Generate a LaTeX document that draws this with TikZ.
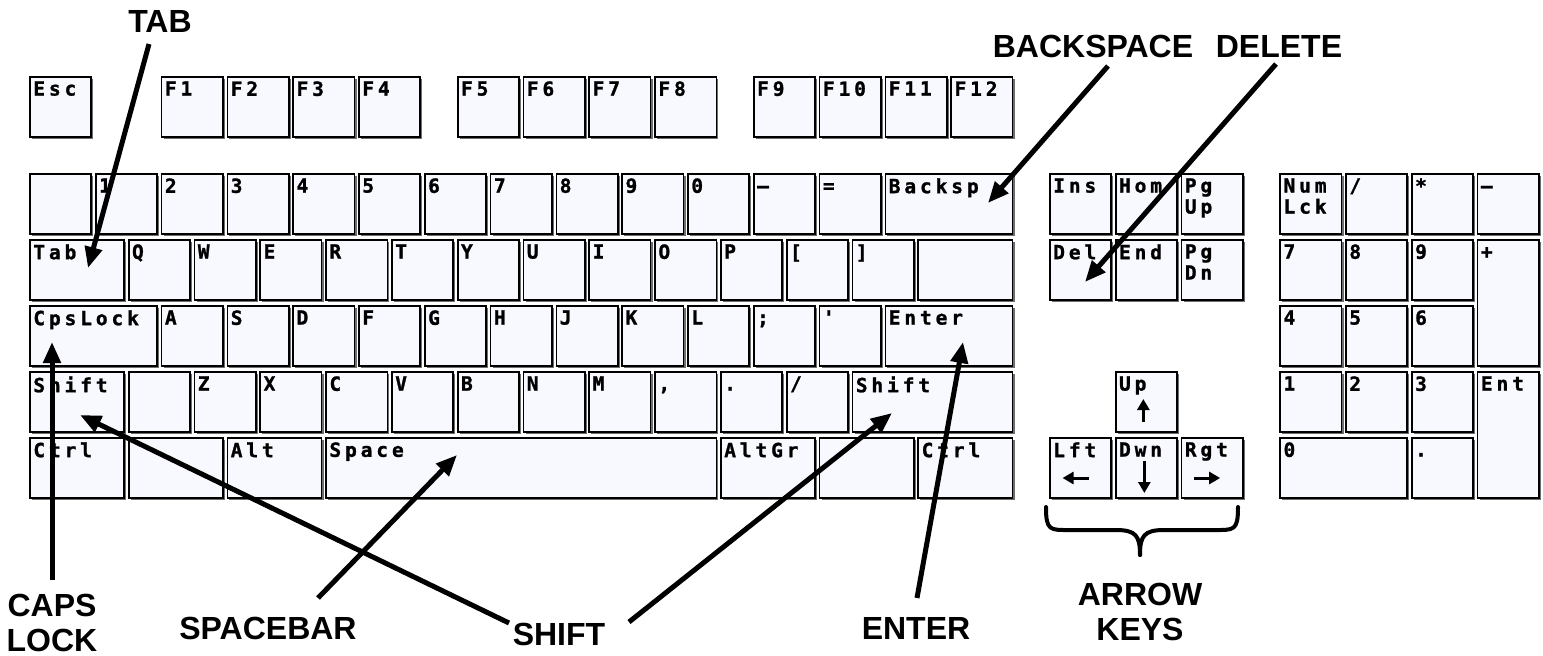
\documentclass[tikz,border=0pt]{standalone}
\usepackage{fontspec}
\setmainfont{Liberation Sans}
\newfontfamily\keyfont[LetterSpace=20, FakeBold=1.2]{DejaVu Sans Mono Bold}
\usetikzlibrary{arrows.meta,shadows,calc}
\definecolor{keyfill}{HTML}{F8F8FF}
\definecolor{keyshade}{HTML}{6E6E6E}
\tikzset{
  keybox/.style={draw=black, line width=1.7pt, fill=keyfill, rectangle, inner sep=0pt,
    drop shadow={shadow xshift=2pt, shadow yshift=-2pt, fill=keyshade, opacity=1}},
  keylbl/.style={anchor=north west, inner sep=0pt, align=left,
    font=\keyfont\fontsize{19.5}{21}\selectfont},
  callout/.style={line width=5pt, -{Triangle[length=21pt,width=17pt]}},
  calllbl/.style={font=\bfseries\fontsize{32}{35}\selectfont, align=center, inner sep=0pt},
  miniarrow/.style={line width=3pt, -{Triangle[length=11pt,width=12pt]}},
  bracepath/.style={line width=4pt, line cap=round},
}
% name, column, top (px), width units, height units, label
\newcommand\kk[6]{%
  \node[keybox, minimum width={#4*65.8-4.5}, minimum height={#5*66-6}] (#1)
    at ({30+#2*65.8+(#4*65.8-4.5)/2},{#3+(#5*66-6)/2}) {};
  \node[keylbl] (#1-t) at ([xshift=4pt,yshift=-5pt]#1.north west) {\vphantom{E}#6};
}
\begin{document}
\begin{tikzpicture}[x=1pt,y=-1pt]
\useasboundingbox (0,0) rectangle (1543,656);
\fill[white] (0,0) rectangle (1543,656);
% function row
\kk{esc}{0}{77}{1}{1}{Esc}
\kk{f1}{2}{77}{1}{1}{F1}
\kk{f2}{3}{77}{1}{1}{F2}
\kk{f3}{4}{77}{1}{1}{F3}
\kk{f4}{5}{77}{1}{1}{F4}
\kk{f5}{6.5}{77}{1}{1}{F5}
\kk{f6}{7.5}{77}{1}{1}{F6}
\kk{f7}{8.5}{77}{1}{1}{F7}
\kk{f8}{9.5}{77}{1}{1}{F8}
\kk{f9}{11}{77}{1}{1}{F9}
\kk{f10}{12}{77}{1}{1}{F10}
\kk{f11}{13}{77}{1}{1}{F11}
\kk{f12}{14}{77}{1}{1}{F12}
% number row
\kk{grave}{0}{174}{1}{1}{}
\kk{k1}{1}{174}{1}{1}{1}
\kk{k2}{2}{174}{1}{1}{2}
\kk{k3}{3}{174}{1}{1}{3}
\kk{k4}{4}{174}{1}{1}{4}
\kk{k5}{5}{174}{1}{1}{5}
\kk{k6}{6}{174}{1}{1}{6}
\kk{k7}{7}{174}{1}{1}{7}
\kk{k8}{8}{174}{1}{1}{8}
\kk{k9}{9}{174}{1}{1}{9}
\kk{k0}{10}{174}{1}{1}{0}
\kk{minus}{11}{174}{1}{1}{–}
\kk{equal}{12}{174}{1}{1}{=}
\kk{bksp}{13}{174}{2}{1}{Backsp}
% tab row
\kk{tab}{0}{240}{1.5}{1}{Tab}
\kk{q}{1.5}{240}{1}{1}{Q}
\kk{w}{2.5}{240}{1}{1}{W}
\kk{e}{3.5}{240}{1}{1}{E}
\kk{r}{4.5}{240}{1}{1}{R}
\kk{t}{5.5}{240}{1}{1}{T}
\kk{y}{6.5}{240}{1}{1}{Y}
\kk{u}{7.5}{240}{1}{1}{U}
\kk{i}{8.5}{240}{1}{1}{I}
\kk{o}{9.5}{240}{1}{1}{O}
\kk{p}{10.5}{240}{1}{1}{P}
\kk{lbr}{11.5}{240}{1}{1}{[}
\kk{rbr}{12.5}{240}{1}{1}{]}
\kk{bsl}{13.5}{240}{1.5}{1}{}
% caps row
\kk{caps}{0}{306}{2}{1}{CpsLock}
\kk{a}{2}{306}{1}{1}{A}
\kk{s}{3}{306}{1}{1}{S}
\kk{d}{4}{306}{1}{1}{D}
\kk{f}{5}{306}{1}{1}{F}
\kk{g}{6}{306}{1}{1}{G}
\kk{h}{7}{306}{1}{1}{H}
\kk{j}{8}{306}{1}{1}{J}
\kk{k}{9}{306}{1}{1}{K}
\kk{l}{10}{306}{1}{1}{L}
\kk{semi}{11}{306}{1}{1}{;}
\kk{quote}{12}{306}{1}{1}{'}
\kk{enter}{13}{306}{2}{1}{Enter}
% shift row
\kk{lshift}{0}{372}{1.5}{1}{Shift}
\kk{iso}{1.5}{372}{1}{1}{}
\kk{z}{2.5}{372}{1}{1}{Z}
\kk{x}{3.5}{372}{1}{1}{X}
\kk{c}{4.5}{372}{1}{1}{C}
\kk{v}{5.5}{372}{1}{1}{V}
\kk{b}{6.5}{372}{1}{1}{B}
\kk{n}{7.5}{372}{1}{1}{N}
\kk{m}{8.5}{372}{1}{1}{M}
\kk{comma}{9.5}{372}{1}{1}{,}
\kk{period}{10.5}{372}{1}{1}{.}
\kk{slash}{11.5}{372}{1}{1}{/}
\kk{rshift}{12.5}{372}{2.5}{1}{Shift}
% ctrl row
\kk{lctrl}{0}{438}{1.5}{1}{Ctrl}
\kk{lwin}{1.5}{438}{1.5}{1}{}
\kk{alt}{3}{438}{1.5}{1}{Alt}
\kk{space}{4.5}{438}{6}{1}{Space}
\kk{altgr}{10.5}{438}{1.5}{1}{AltGr}
\kk{rwin}{12}{438}{1.5}{1}{}
\kk{rctrl}{13.5}{438}{1.5}{1}{Ctrl}
% navigation
\kk{ins}{15.5}{174}{1}{1}{Ins}
\kk{hom}{16.5}{174}{1}{1}{Hom}
\kk{pgup}{17.5}{174}{1}{1}{Pg\\Up}
\kk{del}{15.5}{240}{1}{1}{Del}
\kk{end}{16.5}{240}{1}{1}{End}
\kk{pgdn}{17.5}{240}{1}{1}{Pg\\Dn}
\kk{up}{16.5}{372}{1}{1}{Up}
\kk{lft}{15.5}{438}{1}{1}{Lft}
\kk{dwn}{16.5}{438}{1}{1}{Dwn}
\kk{rgt}{17.5}{438}{1}{1}{Rgt}
% numeric keypad
\kk{numlck}{19}{174}{1}{1}{Num\\Lck}
\kk{pslash}{20}{174}{1}{1}{/}
\kk{pstar}{21}{174}{1}{1}{*}
\kk{pminus}{22}{174}{1}{1}{–}
\kk{p7}{19}{240}{1}{1}{7}
\kk{p8}{20}{240}{1}{1}{8}
\kk{p9}{21}{240}{1}{1}{9}
\kk{pplus}{22}{240}{1}{2}{+}
\kk{p4}{19}{306}{1}{1}{4}
\kk{p5}{20}{306}{1}{1}{5}
\kk{p6}{21}{306}{1}{1}{6}
\kk{p1}{19}{372}{1}{1}{1}
\kk{p2}{20}{372}{1}{1}{2}
\kk{p3}{21}{372}{1}{1}{3}
\kk{pent}{22}{372}{1}{2}{Ent}
\kk{p0}{19}{438}{2}{1}{0}
\kk{pdot}{21}{438}{1}{1}{.}
% arrow glyphs on the arrow keys
\draw[miniarrow] ($(up.center)+(-3,20)$) -- ($(up.center)+(-3,-3)$);
\draw[miniarrow] ($(lft.center)+(8,10)$) -- ($(lft.center)+(-18,10)$);
\draw[miniarrow] ($(dwn.center)+(-2,-7)$) -- ($(dwn.center)+(-2,25)$);
\draw[miniarrow] ($(rgt.center)+(-18,10)$) -- ($(rgt.center)+(8,10)$);
% callout labels
\node[calllbl] (lblTab) at (160,21) {TAB};
\node[calllbl] (lblBksp) at (1093,46) {BACKSPACE};
\node[calllbl] (lblDel) at (1279,46) {DELETE};
\node[calllbl] (lblCaps) at (52,623) {CAPS\\LOCK};
\node[calllbl] (lblSpace) at (268,628) {SPACEBAR};
\node[calllbl] (lblShift) at (559,634) {SHIFT};
\node[calllbl] (lblEnter) at (916,628) {ENTER};
\node[calllbl] (lblArrow) at (1140,612) {ARROW\\KEYS};
% callout end points
\coordinate (sTab) at (149,44);   \coordinate (eTab) at (88,268);
\coordinate (sBksp) at (1108,66); \coordinate (eBksp) at (988,203);
\coordinate (sDel) at (1276,64);  \coordinate (eDel) at (1085,282);
\coordinate (sCaps) at (52,580);  \coordinate (eCaps) at (52,342);
\coordinate (sSpace) at (318,598);\coordinate (eSpace) at (457,455);
\coordinate (sShL) at (509,623);  \coordinate (eShL) at (80,415);
\coordinate (sShR) at (629,622);  \coordinate (eShR) at (892,413);
\coordinate (sEnter) at (917,598);\coordinate (eEnter) at (963,342);
\draw[callout] (sTab) -- (eTab);
\draw[callout] (sBksp) -- (eBksp);
\draw[callout] (sDel) -- (eDel);
\draw[callout] (sCaps) -- (eCaps);
\draw[callout] (sSpace) -- (eSpace);
\draw[callout] (sShL) -- (eShL);
\draw[callout] (sShR) -- (eShR);
\draw[callout] (sEnter) -- (eEnter);
% brace under the arrow keys
\coordinate (brL) at (1046,507);
\coordinate (brR) at (1238,507);
\coordinate (brM) at (1140,555);
\draw[bracepath] (brL) .. controls (1046,531) and (1050,530) .. (1070,530) -- (1116,530)
   .. controls (1136,530) and (1140,536) .. (brM);
\draw[bracepath] (brR) .. controls (1238,531) and (1234,530) .. (1214,530) -- (1164,530)
   .. controls (1144,530) and (1140,536) .. (brM);
\end{tikzpicture}
\end{document}
